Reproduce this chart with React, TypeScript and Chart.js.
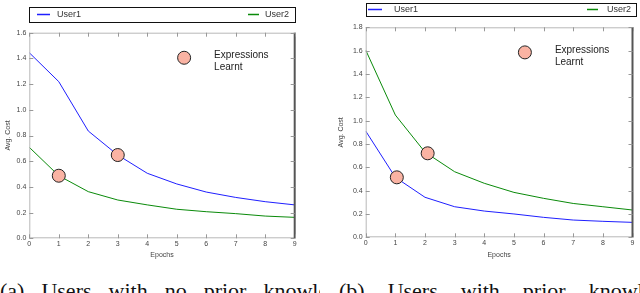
import React, { useEffect, useRef } from "react";
import { Chart, registerables } from "chart.js";

Chart.register(...registerables);

const epochs = [0, 1, 2, 3, 4, 5, 6, 7, 8, 9];

// (a) users with no prior knowledge
const aUser1 = [1.444, 1.219, 0.835, 0.648, 0.506, 0.423, 0.36, 0.318, 0.285, 0.26];
const aUser2 = [0.708, 0.487, 0.363, 0.298, 0.26, 0.226, 0.207, 0.192, 0.173, 0.163];
const aExprX = [1, 3];
const aExprY = [0.487, 0.648];
const aLegendMarker = { x: 5.25, y: 1.405 };
const aYTicks = { min: 0, max: 1.6, step: 0.2 };

// (b) users with prior knowledge
const bUser1 = [0.911, 0.514, 0.343, 0.262, 0.225, 0.2, 0.171, 0.148, 0.137, 0.128];
const bUser2 = [1.605, 1.048, 0.73, 0.562, 0.463, 0.385, 0.334, 0.29, 0.262, 0.234];
const bExprX = [1.05, 2.09];
const bExprY = [0.514, 0.72];
const bLegendMarker = { x: 5.37, y: 1.585 };
const bYTicks = { min: 0, max: 1.8, step: 0.2 };

const seriesLabels = ["User1", "User2"];
const markerLabel = ["Expressions", "Learnt"];
const xTitle = "Epochs";
const yTitle = "Avg. Cost";
const captionA = "(a) Users with no prior knowledge";
const captionB = "(b) Users with prior knowledge";

const BLUE = "#1f1fff";
const GREEN = "#0a8a0a";
const SERIES_COLORS = [BLUE, GREEN];
const SALMON = "#fab3a3";
const FONT = "'Liberation Sans', Arial, sans-serif";

type Layout = {
  left: number;
  right: number;
  top: number;
  bottom: number;
  height: number;
  yTitlePad: number;
  legendBox: [number, number, number, number];
  legendItems: { x1: number; x2: number; tx: number }[];
};

const framePlugin = {
  id: "frameLegend",
  afterDatasetsDraw(chart: any, _args: any, opts: any) {
    const { ctx, chartArea } = chart;
    const { left, right, top, bottom } = chartArea;
    const xs = chart.scales.x;
    const ys = chart.scales.y;
    ctx.save();
    // frame
    ctx.strokeStyle = "#b8b8b8";
    ctx.lineWidth = 1;
    ctx.beginPath();
    ctx.moveTo(right, top + 0.5);
    ctx.lineTo(left + 0.5, top + 0.5);
    ctx.lineTo(left + 0.5, bottom - 0.5);
    ctx.lineTo(right, bottom - 0.5);
    ctx.stroke();
    ctx.strokeStyle = "#555";
    ctx.lineWidth = 2;
    ctx.beginPath();
    ctx.moveTo(right, top);
    ctx.lineTo(right, bottom);
    ctx.stroke();
    // inward ticks
    ctx.strokeStyle = "#999";
    ctx.lineWidth = 1;
    ctx.beginPath();
    xs.ticks.forEach((t: any) => {
      const px = Math.round(xs.getPixelForValue(t.value)) + 0.5;
      ctx.moveTo(px, bottom);
      ctx.lineTo(px, bottom - 4);
      ctx.moveTo(px, top);
      ctx.lineTo(px, top + 4);
    });
    ys.ticks.forEach((t: any) => {
      const py = Math.round(ys.getPixelForValue(t.value)) + 0.5;
      ctx.moveTo(left, py);
      ctx.lineTo(left + 4, py);
      ctx.moveTo(right, py);
      ctx.lineTo(right - 4, py);
    });
    ctx.stroke();

    // legend box
    const [bx1, by1, bx2, by2] = opts.legendBox;
    ctx.strokeStyle = "#111";
    ctx.lineWidth = 1;
    ctx.strokeRect(bx1 + 0.5, by1 + 0.5, bx2 - bx1, by2 - by1);
    const cy = (by1 + by2) / 2;
    ctx.font = `9px ${FONT}`;
    ctx.textBaseline = "middle";
    opts.legendItems.forEach((it: any, i: number) => {
      const ds = chart.data.datasets[i];
      ctx.fillStyle = SERIES_COLORS[i];
      ctx.fillRect(it.x1, Math.floor(cy) - 0.25, it.x2 - it.x1, 1.5);
      ctx.fillStyle = "#333";
      ctx.fillText(ds.label, it.tx, cy + 0.5);
    });

    // marker legend text next to legend marker point
    const meta = chart.getDatasetMeta(3);
    const pt = meta.data[0];
    if (pt) {
      ctx.font = `10px ${FONT}`;
      ctx.fillStyle = "#222";
      ctx.textBaseline = "middle";
      ctx.fillText(markerLabel[0], pt.x + 30, pt.y - 2.5);
      ctx.fillText(markerLabel[1], pt.x + 30, pt.y + 9.5);
    }
    ctx.restore();
  },
};

function makeConfig(
  u1: number[],
  u2: number[],
  ex: number[],
  ey: number[],
  lm: { x: number; y: number },
  yt: { min: number; max: number; step: number },
  L: Layout
): any {
  const pts = (v: number[]) => epochs.map((e, i) => ({ x: e, y: v[i] }));
  const marker = {
    pointRadius: 6.5,
    pointBackgroundColor: SALMON,
    pointBorderColor: "#222",
    pointBorderWidth: 1,
    showLine: false,
  };
  return {
    type: "scatter",
    data: {
      datasets: [
        { label: seriesLabels[0], data: pts(u1), borderColor: BLUE, borderWidth: 1, showLine: true, pointRadius: 0, order: 3 },
        { label: seriesLabels[1], data: pts(u2), borderColor: GREEN, borderWidth: 1, showLine: true, pointRadius: 0, order: 3 },
        { label: markerLabel.join(" "), data: ex.map((x, i) => ({ x, y: ey[i] })), ...marker, order: 1 },
        { label: "legend", data: [lm], ...marker, order: 1 },
      ],
    },
    options: {
      animation: false,
      responsive: false,
      maintainAspectRatio: false,
      events: [],
      layout: { padding: { left: 0, right: 320 - L.right, top: L.top, bottom: 0 } },
      plugins: {
        legend: { display: false },
        tooltip: { enabled: false },
        frameLegend: { legendBox: L.legendBox, legendItems: L.legendItems },
      },
      scales: {
        x: {
          type: "linear",
          min: 0,
          max: 9,
          grid: { display: false, drawTicks: false },
          border: { display: false },
          ticks: { stepSize: 1, padding: 2, color: "#444", font: { size: 7, family: FONT } },
          title: { display: true, text: xTitle, color: "#444", font: { size: 7, family: FONT }, padding: { top: 0, bottom: 10.5 } },
          afterFit: (s: any) => {
            s.height = L.height - L.bottom;
          },
        },
        y: {
          type: "linear",
          min: yt.min,
          max: yt.max,
          grid: { display: false, drawTicks: false },
          border: { display: false },
          ticks: {
            stepSize: yt.step,
            padding: 3,
            color: "#444",
            font: { size: 7, family: FONT },
            callback: (v: number) => v.toFixed(1),
          },
          title: { display: true, text: yTitle, color: "#444", font: { size: 7, family: FONT }, padding: { top: L.yTitlePad, bottom: 0 } },
          afterFit: (s: any) => {
            s.width = L.left;
          },
        },
      },
    },
    plugins: [framePlugin],
  };
}

const layoutA: Layout = {
  left: 29.3,
  right: 294.7,
  top: 32.7,
  bottom: 238.3,
  height: 270,
  yTitlePad: 4,
  legendBox: [29, 7, 295, 22],
  legendItems: [
    { x1: 37, x2: 50, tx: 57 },
    { x1: 248, x2: 259, tx: 265 },
  ],
};

const layoutB: Layout = {
  left: 45.7,
  right: 315.3,
  top: 27.3,
  bottom: 237.3,
  height: 270,
  yTitlePad: 16.5,
  legendBox: [46, 3, 316, 16],
  legendItems: [
    { x1: 48, x2: 62, tx: 74 },
    { x1: 267, x2: 278, tx: 287 },
  ],
};

function Panel({ config, left }: { config: any; left: number }) {
  const ref = useRef<HTMLCanvasElement>(null);
  useEffect(() => {
    if (!ref.current) return;
    const c = new Chart(ref.current, config);
    return () => c.destroy();
  }, []);
  return (
    <canvas
      ref={ref}
      width={320}
      height={270}
      style={{ position: "absolute", left, top: 0, width: 320, height: 270 }}
    />
  );
}

export default function App() {
  const cfgA = makeConfig(aUser1, aUser2, aExprX, aExprY, aLegendMarker, aYTicks, layoutA);
  const cfgB = makeConfig(bUser1, bUser2, bExprX, bExprY, bLegendMarker, bYTicks, layoutB);
  const capStyle: React.CSSProperties = {
    position: "absolute",
    top: 278,
    fontFamily: "'Liberation Serif', 'Times New Roman', serif",
    fontSize: 22,
    lineHeight: "normal",
    whiteSpace: "nowrap",
    color: "#111",
  };
  return (
    <div
      style={{
        position: "absolute",
        left: 0,
        top: 0,
        width: 640,
        height: 293,
        overflow: "hidden",
        background: "#fff",
      }}
    >
      <Panel config={cfgA} left={0} />
      <Panel config={cfgB} left={320} />
      <div style={{ ...capStyle, left: 0, width: 320, overflow: "hidden", wordSpacing: 11.5 }}>{captionA}</div>
      <div style={{ ...capStyle, left: 339, width: 301, overflow: "hidden", wordSpacing: 17.5 }}>{captionB}</div>
    </div>
  );
}
